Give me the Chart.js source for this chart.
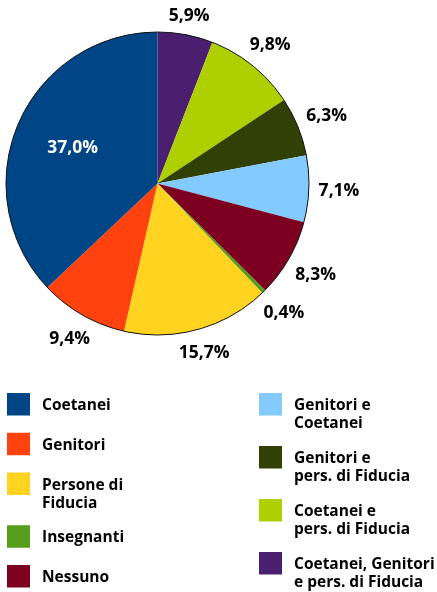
<!DOCTYPE html>
<html>
<head>
<meta charset="utf-8">
<script src="https://cdn.jsdelivr.net/npm/chart.js@4.4.1/dist/chart.umd.min.js"></script>
<style>
  html, body { margin: 0; padding: 0; background: #fff; }
  #wrap { width: 437px; height: 592px; }
</style>
</head>
<body>
<div id="wrap"><canvas id="pie" width="437" height="592"></canvas></div>
<script>
// dati del grafico
const labels = ['Coetanei', 'Genitori', 'Persone di\nFiducia', 'Insegnanti', 'Nessuno',
                'Genitori e\nCoetanei', 'Genitori e\npers. di Fiducia', 'Coetanei e\npers. di Fiducia',
                'Coetanei, Genitori\ne pers. di Fiducia'];
const values = [37.0, 9.4, 15.7, 0.4, 8.3, 7.1, 6.3, 9.8, 5.9];
const colors = ['#004586', '#ff420e', '#ffd320', '#579d1c', '#7e0021',
                '#83caff', '#314004', '#aecf00', '#4b1f6f'];
const legendColumns = [[0, 1, 2, 3, 4], [5, 6, 7, 8]];

const pctText = values.map(v => v.toFixed(1).replace('.', ',') + '%');
const biggest = values.indexOf(Math.max(...values));

// la torta gira in senso antiorario: invertiamo l'ordine per Chart.js
const order = values.map((v, i) => i).reverse();

const FONT = '"Open Sans", sans-serif';

const pieLabels = {
    id: 'pieLabels',
    afterDatasetsDraw(chart) {
        const ctx = chart.ctx;
        const meta = chart.getDatasetMeta(0);
        const first = meta.data[0];
        const R = first.outerRadius;
        const cx = first.x, cy = first.y;

        ctx.save();
        ctx.beginPath();
        ctx.arc(cx, cy, R, 0, Math.PI * 2);
        ctx.lineWidth = 1;
        ctx.strokeStyle = '#111';
        ctx.stroke();

        ctx.font = 'bold 17.5px ' + FONT;
        ctx.textAlign = 'center';
        ctx.textBaseline = 'alphabetic';
        meta.data.forEach((arc, i) => {
            const idx = order[i];
            const txt = pctText[idx];
            const mid = (arc.startAngle + arc.endAngle) / 2;
            const c = Math.cos(mid), s = Math.sin(mid);
            let r;
            if (idx === biggest) {
                r = R * 0.61;
                ctx.fillStyle = '#fff';
            } else {
                const hw = ctx.measureText(txt).width / 2;
                r = R + 9.5 + hw * Math.abs(c) + 7 * Math.abs(s);
                ctx.fillStyle = '#000';
            }
            ctx.fillText(txt, cx + c * r, cy + s * r + 6.2);
        });

        // legenda su due colonne
        const sw = 23, lineH = 18.4, top = 393, bottom = 588;
        const swX = [7, 259], txtX = [42, 294];
        ctx.font = 'bold 15.5px ' + FONT;
        ctx.textAlign = 'left';
        legendColumns.forEach((col, k) => {
            const hs = col.map(i => sw + (labels[i].split('\n').length - 1) * 13);
            const gap = (bottom - top - hs.reduce((a, b) => a + b, 0)) / (col.length - 1);
            let y = top;
            col.forEach((i, j) => {
                ctx.fillStyle = colors[i];
                ctx.fillRect(swX[k], y, sw, sw - 0.5);
                ctx.fillStyle = '#000';
                labels[i].split('\n').forEach((line, n) => {
                    ctx.fillText(line, txtX[k], y + sw / 2 + 5.5 + n * lineH);
                });
                y += hs[j] + gap;
            });
        });
        ctx.restore();
    }
};

new Chart(document.getElementById('pie'), {
    type: 'pie',
    data: {
        labels: order.map(i => labels[i]),
        datasets: [{
            data: order.map(i => values[i]),
            backgroundColor: order.map(i => colors[i]),
            borderWidth: 0,
            hoverOffset: 0,
            offset: 0
        }]
    },
    options: {
        responsive: false,
        animation: false,
        events: [],
        layout: { padding: { left: 6, top: 32, right: 128, bottom: 257 } },
        plugins: {
            legend: { display: false },
            tooltip: { enabled: false }
        }
    },
    plugins: [pieLabels]
});
</script>
</body>
</html>
